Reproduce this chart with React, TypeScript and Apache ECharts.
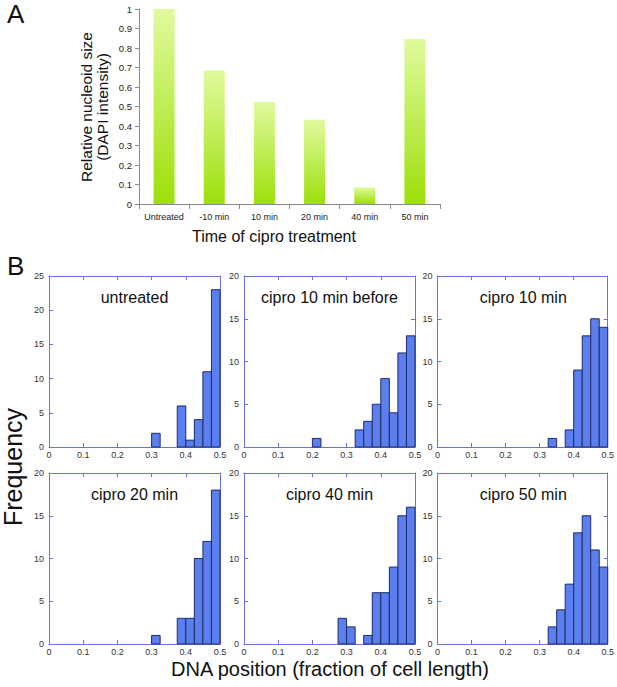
import React, { useEffect, useRef } from "react";
import * as echarts from "echarts";

// ---- Panel A data ----
const treatmentCategories = ["Untreated", "-10 min", "10 min", "20 min", "40 min", "50 min"];
const nucleoidSize = [1.0, 0.685, 0.523, 0.432, 0.085, 0.846];

// ---- Panel B data (histograms, bin width 0.025) ----
const binStarts = [0, 0.025, 0.05, 0.075, 0.1, 0.125, 0.15, 0.175, 0.2, 0.225, 0.25, 0.275, 0.3, 0.325, 0.35, 0.375, 0.4, 0.425, 0.45, 0.475];
const binWidth = 0.025;
const untreatedCounts = [0, 0, 0, 0, 0, 0, 0, 0, 0, 0, 0, 0, 2, 0, 0, 6, 1, 4, 11, 23];
const cipro10BeforeCounts = [0, 0, 0, 0, 0, 0, 0, 0, 1, 0, 0, 0, 0, 2, 3, 5, 8, 4, 11, 13];
const cipro10Counts = [0, 0, 0, 0, 0, 0, 0, 0, 0, 0, 0, 0, 0, 1, 0, 2, 9, 13, 15, 14];
const cipro20Counts = [0, 0, 0, 0, 0, 0, 0, 0, 0, 0, 0, 0, 1, 0, 0, 3, 3, 10, 12, 18];
const cipro40Counts = [0, 0, 0, 0, 0, 0, 0, 0, 0, 0, 0, 3, 2, 0, 1, 6, 6, 9, 15, 16];
const cipro50Counts = [0, 0, 0, 0, 0, 0, 0, 0, 0, 0, 0, 0, 0, 2, 4, 7, 13, 15, 11, 9];
const panelTitles = ["untreated", "cipro 10 min before", "cipro 10 min", "cipro 20 min", "cipro 40 min", "cipro 50 min"];
const panelCounts = [untreatedCounts, cipro10BeforeCounts, cipro10Counts, cipro20Counts, cipro40Counts, cipro50Counts];
const panelYMax = [25, 20, 20, 20, 20, 20];

const FONT = "'Liberation Sans', Arial, sans-serif";
const NARROW = "'Liberation Sans Narrow', 'Liberation Sans', Arial, sans-serif";
const FRAME = "#6d70d8";

export default function App() {
  const ref = useRef<HTMLDivElement>(null);

  useEffect(() => {
    document.body.style.margin = "0";
    if (!ref.current) return;
    const chart = echarts.init(ref.current, null, { renderer: "svg" });

    const histBoxes = [
      { left: 49, top: 276, width: 171, height: 171 },
      { left: 244, top: 276, width: 171, height: 171 },
      { left: 437.5, top: 276, width: 171.5, height: 171 },
      { left: 49, top: 473, width: 171, height: 171 },
      { left: 244, top: 473, width: 171, height: 171 },
      { left: 437.5, top: 473, width: 171.5, height: 171 },
    ];

    const grids: any[] = [{ left: 139, top: 9, width: 301, height: 195 }];
    const xAxes: any[] = [
      {
        type: "category",
        gridIndex: 0,
        data: treatmentCategories,
        axisLine: { lineStyle: { color: "#8a8a8a", width: 1 } },
        axisTick: { show: true, length: 5, lineStyle: { color: "#8a8a8a" } },
        axisLabel: { interval: 0, fontSize: 9, color: "#222", fontFamily: NARROW, margin: 8 },
      },
    ];
    const yAxes: any[] = [
      {
        type: "value",
        gridIndex: 0,
        min: 0,
        max: 1,
        interval: 0.1,
        axisLine: { show: true, lineStyle: { color: "#8a8a8a", width: 1 } },
        axisTick: { show: true, length: 4, lineStyle: { color: "#8a8a8a" } },
        axisLabel: { fontSize: 9.5, color: "#222", fontFamily: NARROW, margin: 7 },
        splitLine: { show: false },
      },
    ];
    const series: any[] = [
      {
        type: "bar",
        xAxisIndex: 0,
        yAxisIndex: 0,
        data: nucleoidSize,
        barWidth: 21,
        itemStyle: {
          color: new echarts.graphic.LinearGradient(0, 0, 0, 1, [
            { offset: 0, color: "#e0fb9e" },
            { offset: 1, color: "#9ddf0a" },
          ]),
        },
      },
    ];

    const graphics: any[] = [
      { type: "text", left: 7, top: 1, style: { text: "A", font: `26px ${FONT}`, fill: "#111" } },
      { type: "text", left: 7, top: 253, style: { text: "B", font: `26px ${FONT}`, fill: "#111" } },
      {
        type: "text",
        x: 94,
        y: 107,
        rotation: Math.PI / 2,
        style: {
          text: "Relative nucleoid size\n(DAPI intensity)",
          font: `15.5px ${FONT}`,
          fill: "#111",
          align: "center",
          verticalAlign: "middle",
          lineHeight: 16,
        },
      },
      {
        type: "text",
        x: 274,
        y: 236,
        style: { text: "Time of cipro treatment", font: `16px ${FONT}`, fill: "#111", align: "center", verticalAlign: "middle" },
      },
      {
        type: "text",
        x: 13,
        y: 467,
        rotation: Math.PI / 2,
        style: { text: "Frequency", font: `25px ${FONT}`, fill: "#111", align: "center", verticalAlign: "middle" },
      },
      {
        type: "text",
        x: 330,
        y: 669,
        style: {
          text: "DNA position (fraction of cell length)",
          font: `20px ${FONT}`,
          fill: "#111",
          align: "center",
          verticalAlign: "middle",
        },
      },
    ];

    histBoxes.forEach((box, i) => {
      const g = i + 1;
      grids.push({ ...box });
      const xi = xAxes.length;
      const yi = yAxes.length;
      const common = {
        gridIndex: g,
        axisLine: { show: true, onZero: false, lineStyle: { color: FRAME, width: 1 } },
        axisTick: { show: true, inside: true, length: 4, lineStyle: { color: FRAME } },
        splitLine: { show: false },
      };
      xAxes.push({
        ...common,
        type: "value",
        position: "bottom",
        min: 0,
        max: 0.5,
        interval: 0.1,
        axisLabel: { fontSize: 9, color: "#333", fontFamily: FONT, margin: 3 },
      });
      xAxes.push({
        ...common,
        type: "value",
        position: "top",
        min: 0,
        max: 0.5,
        interval: 0.1,
        axisLabel: { show: false },
      });
      yAxes.push({
        ...common,
        type: "value",
        position: "left",
        min: 0,
        max: panelYMax[i],
        interval: 5,
        axisLabel: { fontSize: 9, color: "#333", fontFamily: FONT, margin: 5 },
      });
      yAxes.push({
        ...common,
        type: "value",
        position: "right",
        min: 0,
        max: panelYMax[i],
        interval: 5,
        axisLabel: { show: false },
      });
      const data = binStarts
        .map((s, k) => [s, s + binWidth, panelCounts[i][k]])
        .filter((d) => d[2] > 0);
      series.push({
        type: "custom",
        xAxisIndex: xi,
        yAxisIndex: yi,
        data,
        encode: { x: [0, 1], y: 2 },
        renderItem: (_params: any, api: any) => {
          const p0 = api.coord([api.value(0), api.value(2)]);
          const p1 = api.coord([api.value(1), 0]);
          return {
            type: "rect",
            shape: { x: p0[0], y: p0[1], width: p1[0] - p0[0], height: p1[1] - p0[1] },
            style: { fill: "#5c7ff0", stroke: "#1e2c66", lineWidth: 1 },
          };
        },
      });
      graphics.push({
        type: "text",
        x: box.left + box.width / 2,
        y: box.top + 21,
        style: { text: panelTitles[i], font: `16px ${FONT}`, fill: "#111", align: "center", verticalAlign: "middle" },
      });
    });

    chart.setOption({
      animation: false,
      backgroundColor: "#fff",
      grid: grids,
      xAxis: xAxes,
      yAxis: yAxes,
      series,
      graphic: graphics,
    });

    return () => chart.dispose();
  }, []);

  return <div ref={ref} style={{ width: 617, height: 687 }} />;
}
